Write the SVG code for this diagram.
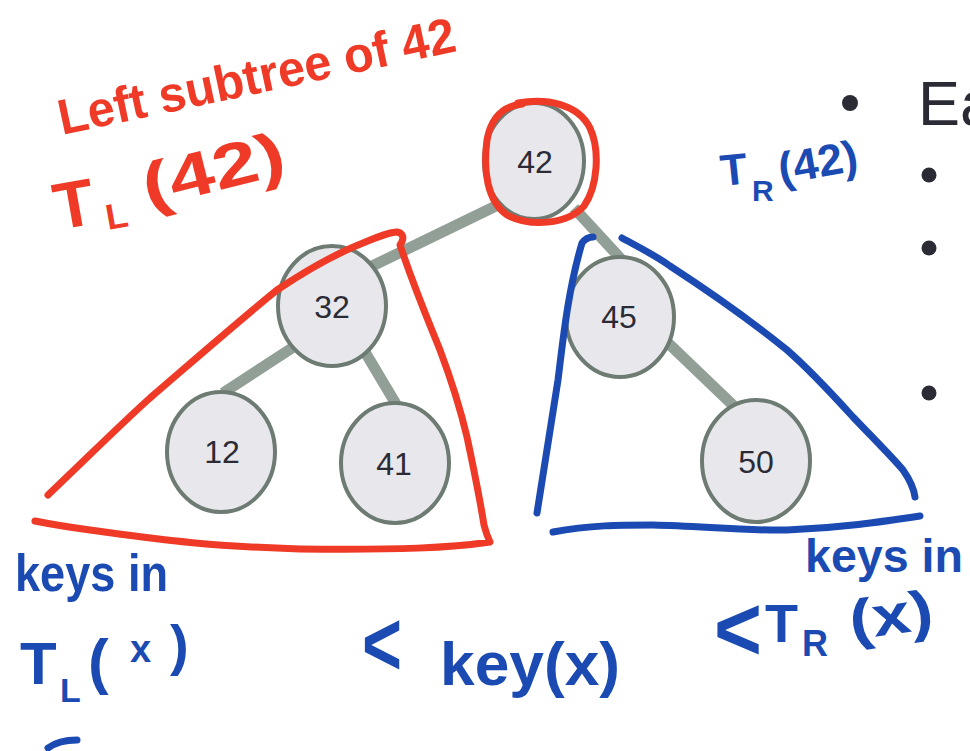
<svg xmlns="http://www.w3.org/2000/svg" width="970" height="751" viewBox="0 0 970 751">
<style>
.edge{stroke:#919f97;stroke-width:11;stroke-linecap:butt;fill:none}
.node ellipse{fill:#e8e8ec;stroke:#6e7b73;stroke-width:4}
.node text{font-family:"Liberation Sans",Arial,sans-serif;font-size:32px;fill:#2b2b36;text-anchor:middle}
.red{fill:none;stroke:#ee3a27;stroke-width:7;stroke-linecap:round;stroke-linejoin:round}
.blue{fill:none;stroke:#1b4bb2;stroke-width:7;stroke-linecap:round;stroke-linejoin:round}
.rt{font-family:"Liberation Sans",Arial,sans-serif;font-weight:bold;fill:#ee3a27}
.bt{font-family:"Liberation Sans",Arial,sans-serif;font-weight:bold;fill:#1b4bb2}
.slide{font-family:"Liberation Sans",Arial,sans-serif;fill:#2b2b36}
</style>
<rect width="970" height="751" fill="#ffffff"/>

<g id="slide-text">
<circle cx="850" cy="103" r="8" fill="#2b2b36"/>
<text class="slide" x="918" y="125" font-size="63">Ea</text>
<circle cx="929" cy="175" r="7.5" fill="#2b2b36"/>
<circle cx="929" cy="248" r="7.5" fill="#2b2b36"/>
<circle cx="929" cy="393" r="7.5" fill="#2b2b36"/>
</g>

<g id="connectors">
<line class="edge" x1="500" y1="204" x2="366" y2="269"/>
<line class="edge" x1="574" y1="208" x2="621" y2="259"/>
<line class="edge" x1="292" y1="348" x2="223" y2="393"/>
<line class="edge" x1="365" y1="352" x2="396" y2="404"/>
<line class="edge" x1="667" y1="342" x2="738" y2="410"/>
</g>

<g id="node-42" class="node"><ellipse cx="534" cy="161" rx="50" ry="58"/><text x="535" y="173">42</text></g>
<g id="node-32" class="node"><ellipse cx="332" cy="306" rx="54" ry="60"/><text x="332" y="318">32</text></g>
<g id="node-12" class="node"><ellipse cx="221" cy="452" rx="54" ry="60"/><text x="222" y="463">12</text></g>
<g id="node-41" class="node"><ellipse cx="395" cy="463" rx="54" ry="60"/><text x="394" y="475">41</text></g>
<g id="node-45" class="node"><ellipse cx="620" cy="317" rx="54" ry="60"/><text x="619" y="328">45</text></g>
<g id="node-50" class="node"><ellipse cx="756" cy="461" rx="54" ry="61"/><text x="756" y="473">50</text></g>

<g id="red-annotations">
<path class="red" stroke-width="10" d="M518,103 C547,98 578,104 590,128 C600,150 598,186 584,206 C567,225 530,227 507,215 C487,201 483,170 487,140 C491,118 503,106 522,104"/>
<path class="red" d="M48,495 C90,455 120,425 150,398 C200,355 240,320 277,290 C310,268 340,252 363,243 C380,236 390,232 397,232 C403,233 405,238 400,245 C415,290 428,320 440,350 C455,390 463,420 467,437 C474,470 480,500 484,525 C486,533 488,538 490,542 C450,548 400,550 300,549 C200,546 150,538 90,530 C60,526 45,523 35,521"/>
<text class="rt" x="62" y="135" font-size="50" textLength="405" lengthAdjust="spacingAndGlyphs" transform="rotate(-12 62 135)">Left subtree of 42</text>
<text class="rt" x="58" y="230" font-size="66" transform="rotate(-10 58 230)">T</text>
<text class="rt" x="108" y="230" font-size="36" transform="rotate(-10 108 230)">L</text>
<text class="rt" x="148" y="208" font-size="62" textLength="145" lengthAdjust="spacingAndGlyphs" transform="rotate(-14 148 208)">(42)</text>
</g>

<g id="blue-annotations">
<path class="blue" d="M537,513 C545,460 552,420 558,380 C563,340 568,290 582,243 C585,239 589,237 593,237"/>
<path class="blue" stroke-width="8" d="M622,238 C640,248 655,255 670,266 C710,292 750,320 787,350 C810,370 833,395 853,417 C875,440 893,458 903,470 C910,480 914,490 915,497"/>
<path class="blue" d="M553,532 C590,525 620,525 653,525 C700,526 745,531 787,530 C840,528 880,522 920,516"/>
<text class="bt" x="722" y="186" font-size="44" transform="rotate(-6 722 186)">T</text>
<text class="bt" x="752" y="201" font-size="30">R</text>
<text class="bt" x="781" y="184" font-size="44" textLength="80" lengthAdjust="spacingAndGlyphs" transform="rotate(-10 781 184)">(42)</text>

<text class="bt" x="15" y="591" font-size="52" textLength="153" lengthAdjust="spacingAndGlyphs">keys in</text>
<text class="bt" x="20" y="684" font-size="60">T</text>
<text class="bt" x="60" y="702" font-size="34">L</text>
<text class="bt" x="88" y="682" font-size="62">(</text>
<text class="bt" x="130" y="662" font-size="38">x</text>
<text class="bt" x="170" y="664" font-size="56">)</text>
<path class="blue" d="M48,748 C56,742 66,740 77,740"/>

<text class="bt" x="362" y="675" font-size="90" textLength="40" lengthAdjust="spacingAndGlyphs">&lt;</text>
<text class="bt" x="440" y="685" font-size="62" textLength="180" lengthAdjust="spacingAndGlyphs">key(x)</text>

<text class="bt" x="805" y="572" font-size="47" textLength="158" lengthAdjust="spacingAndGlyphs">keys in</text>
<text class="bt" x="714" y="660" font-size="90" textLength="48" lengthAdjust="spacingAndGlyphs">&lt;</text>
<text class="bt" x="765" y="642" font-size="54">T</text>
<text class="bt" x="802" y="656" font-size="36">R</text>
<text class="bt" x="852" y="640" font-size="56" textLength="84" lengthAdjust="spacingAndGlyphs" transform="rotate(-8 852 640)">(x)</text>
</g>
</svg>
